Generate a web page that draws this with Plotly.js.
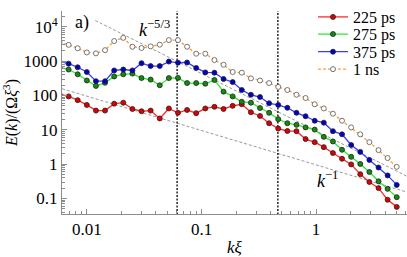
<!DOCTYPE html>
<html><head><meta charset="utf-8">
<script src="https://cdn.plot.ly/plotly-3.0.1.min.js"></script>
<style>html,body{margin:0;padding:0;background:#fff}#c{width:407px;height:257px}</style>
</head><body><div id="c"></div>
<script>
// k*xi values (log-spaced bins)
const kXi = [0.005754, 0.006913, 0.0083, 0.00997, 0.01198, 0.01438, 0.01728, 0.02075, 0.02492, 0.02993,
  0.03595, 0.04318, 0.05186, 0.06229, 0.07482, 0.08985, 0.1079, 0.1296, 0.1557, 0.187,
  0.2246, 0.2698, 0.324, 0.3891, 0.4674, 0.5613, 0.6742, 0.8096, 0.9727, 1.168,
  1.403, 1.685, 2.024, 2.431, 2.92, 3.508, 4.212, 5.059];
const E225 = [111, 93.8, 72.8, 52.9, 36.1, 36.1, 57.5, 61.3, 40.3, 34.6, 36.1, 21.3, 41.8, 31.2, 37.8, 30.4,
  41.8, 46.6, 40.3, 49.7, 55.3, 32.4, 25.2, 15.5, 10.8, 9.21, 9.09, 5.36, 4.35, 3.12, 2.10, 1.43, 0.981,
  0.509, 0.301, 0.200, 0.0915, 0.0568];
const E275 = [661, 568, 413, 272, 189, 233, 357, 413, 432, 320, 289, 198, 320, 324, 229, 229, 219, 282,
  129, 93.8, 65.3, 61.3, 42.9, 31.2, 20.4, 15.5, 13.9, 11.7, 10.1, 6.21, 4.57, 2.61, 1.63, 1.01, 0.590,
  0.316, 0.190, 0.109];
const E375 = [969, 842, 661, 481, 260, 260, 533, 568, 533, 869, 718, 718, 969, 898, 909, 632, 469, 460,
  301, 244, 144, 104.5, 89.8, 59.0, 52.9, 43.7, 31.2, 24.7, 18.3, 16.1, 9.09, 7.37, 3.59, 2.27, 1.32,
  0.796, 0.469, 0.248];
const E1ns = [3500, 2970, 2360, 1785, 1675, 2080, 3830, 4750, 2615, 2405, 2680, 3005, 4080, 4080, 2615,
  1642, 1642, 1072, 780, 481, 460, 314, 272, 229, 177, 144, 104.5, 84.2, 55.3, 41.8, 29.3, 18.3, 11.7,
  7.37, 4.35, 2.55, 1.50, 0.832];
const seriesNames = ["225 ps", "275 ps", "375 ps", "1 ns"];
// reference power laws
const ref53K = [0.01181, 6.22];
const ref53E = [15200, 0.443];
const ref1K = [0.005, 6.22];
const ref1E = [190, 0.153];
// vertical markers
const vLinesK = [0.0612, 0.464];
const vLinesE = [1e-3, 1e6];
const xTickVals = [0.01, 0.1, 1];
const xTickText = ["0.01", "0.1", "1"];
const yTickVals = [0.1, 1, 10, 100, 1000, 10000];
const yTickText = ["0.1", "1", "10", "100", "1000", "10<sup>4</sup>"];

const FONT = "Liberation Serif, Times New Roman, serif";
const traces = [];
traces.push({x: ref53K, y: ref53E, mode: "lines", line: {color: "#9a9a9a", width: 1, dash: "3px,2px"}, showlegend: false, hoverinfo: "skip"});
traces.push({x: ref1K, y: ref1E, mode: "lines", line: {color: "#9a9a9a", width: 1, dash: "3px,2px"}, showlegend: false, hoverinfo: "skip"});
vLinesK.forEach(k => traces.push({x: [k, k], y: vLinesE, mode: "lines", line: {color: "#000", width: 1.3, dash: "2px,1.5px"}, showlegend: false, hoverinfo: "skip"}));

const styles = [
  {line: "#ff2a2a", fill: "#dd0000", dash: "solid", legend: "legend"},
  {line: "#2ee82e", fill: "#138a13", dash: "solid", legend: "legend2"},
  {line: "#3a3aff", fill: "#0000cc", dash: "solid", legend: "legend3"},
  {line: "#ff9a3c", fill: "#ffffff", dash: "3px,2px", legend: "legend4"}
];
[E225, E275, E375, E1ns].forEach((ys, i) => {
  const s = styles[i];
  traces.push({x: kXi, y: ys, name: seriesNames[i], mode: "lines+markers", legend: s.legend,
    line: {color: s.line, width: 1.3, dash: s.dash},
    marker: {size: 5, color: s.fill, line: {color: i === 3 ? "#555" : "#222", width: 0.8}}});
});

const legY = [0.972, 0.886, 0.799, 0.713];
function leg(y) {
  return {x: 0.7275, xanchor: "left", y: y, yanchor: "middle", bgcolor: "rgba(0,0,0,0)",
    borderwidth: 0, font: {family: FONT, size: 16, color: "#000"}, itemwidth: 30};
}
const layout = {
  width: 407, height: 257,
  margin: {l: 62, r: 0, t: 0, b: 43},
  paper_bgcolor: "#fff", plot_bgcolor: "#fff",
  font: {family: FONT, size: 17, color: "#000"},
  xaxis: {type: "log", range: [-2.218, 0.7937], showgrid: false, zeroline: false,
    showline: true, linecolor: "#8c8c8c", linewidth: 1, mirror: false,
    ticks: "inside", ticklen: 5, tickcolor: "#8c8c8c", tickmode: "array",
    tickvals: xTickVals, ticktext: xTickText, tickfont: {family: FONT, size: 17},
    minor: {ticks: "inside", ticklen: 3, tickcolor: "#8c8c8c", dtick: "D1", showgrid: false},
    title: {text: "<i>kξ</i>", font: {family: FONT, size: 17}, standoff: 2}},
  yaxis: {type: "log", range: [-1.453, 4.4586], showgrid: false, zeroline: false,
    showline: true, linecolor: "#8c8c8c", linewidth: 1,
    ticks: "inside", ticklen: 5, tickcolor: "#8c8c8c", tickmode: "array",
    tickvals: yTickVals, ticktext: yTickText, tickfont: {family: FONT, size: 17},
    minor: {ticks: "inside", ticklen: 3, tickcolor: "#8c8c8c", dtick: "D1", showgrid: false},
    title: {text: "<i>E</i>(<i>k</i>)/(Ω<i>ξ</i><sup>3</sup>)", font: {family: FONT, size: 16}, standoff: 4}},
  legend: leg(legY[0]), legend2: leg(legY[1]), legend3: leg(legY[2]), legend4: leg(legY[3]),
  annotations: [
    {xref: "paper", yref: "paper", x: 0.058, y: 0.944, text: "a)", showarrow: false,
      xanchor: "center", yanchor: "middle", font: {family: FONT, size: 18}},
    {xref: "paper", yref: "paper", x: 0.217, y: 0.915, text: "<i>k</i><sup>−5/3</sup>", showarrow: false,
      xanchor: "left", yanchor: "middle", font: {family: FONT, size: 18}},
    {xref: "paper", yref: "paper", x: 0.733, y: 0.168, text: "<i>k</i><sup>−1</sup>", showarrow: false,
      xanchor: "left", yanchor: "middle", font: {family: FONT, size: 18}}
  ]
};
Plotly.newPlot("c", traces, layout, {staticPlot: true, displayModeBar: false});
</script></body></html>
